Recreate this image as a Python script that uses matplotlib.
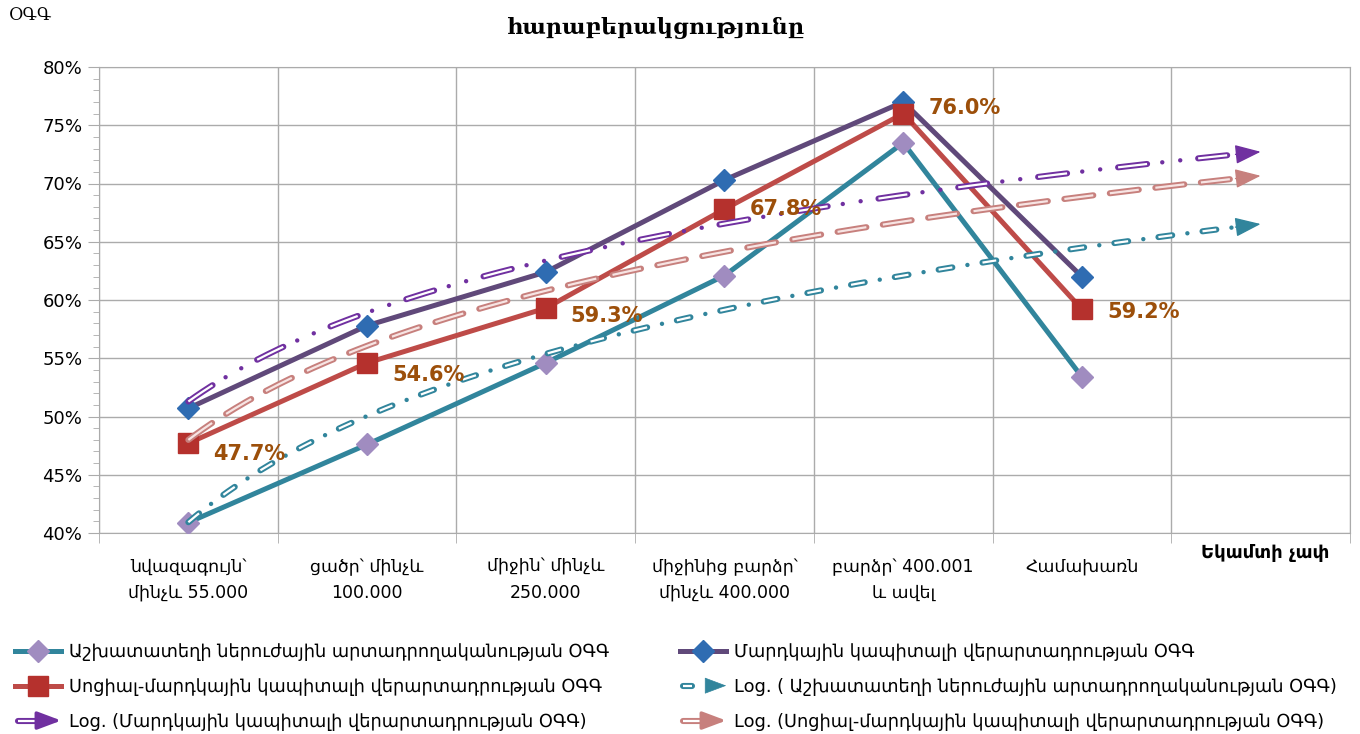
import numpy as np
import matplotlib
matplotlib.use("Agg")
import matplotlib.pyplot as plt
from matplotlib.lines import Line2D
from matplotlib.patches import FancyArrowPatch
from matplotlib.legend_handler import HandlerBase
from matplotlib.ticker import MultipleLocator, FixedLocator, FuncFormatter

plt.rcParams['font.family'] = ['DejaVu Sans']
plt.rcParams['lines.scale_dashes'] = False

# --- data (percent) ---
categories = ["նվազագույն՝\nմինչև 55.000", "ցածր՝ մինչև\n100.000", "միջին՝ մինչև\n250.000",
              "միջինից բարձր՝\nմինչև 400.000", "բարձր՝ 400.001\nև ավել", "Համախառն"]
workplace = [40.9, 47.6, 54.6, 62.1, 73.5, 53.4]
human = [50.7, 57.8, 62.4, 70.3, 77.0, 62.0]
social = [47.7, 54.6, 59.3, 67.8, 76.0, 59.2]

name_work = "Աշխատատեղի ներուժային արտադրողականության ՕԳԳ"
name_human = "Մարդկային կապիտալի վերարտադրության ՕԳԳ"
name_social = "Սոցիալ-մարդկային կապիտալի վերարտադրության ՕԳԳ"
trend_work = "Log. ( Աշխատատեղի ներուժային արտադրողականության ՕԳԳ)"
trend_human = "Log. (Մարդկային կապիտալի վերարտադրության ՕԳԳ)"
trend_social = "Log. (Սոցիալ-մարդկային կապիտալի վերարտադրության ՕԳԳ)"

GRID = "#ababab"
LABEL_COL = "#9c4f0a"
ARROW = "-|>,head_length=0.8,head_width=0.3"

# trendline dash patterns in points: (period, dash length, dot positions)
PATTERNS = {
    "dashdot": (32, 10, [21]),
    "dashdotdot": (58, 21, [32, 45]),
    "dash": (33, 21, []),
}


def draw_trend(ax, y, color, kind, inner="white"):
    """Excel-like logarithmic trendline, forecast one period forward."""
    t = np.arange(1, len(y) + 1)
    a, b = np.polyfit(np.log(t), y, 1)
    tt = np.linspace(1, len(y) + 1, 300)
    yy = a * np.log(tt) + b
    xx = tt - 1
    period, dash, dots = PATTERNS[kind]
    stop = -6
    ax.plot(xx[:stop], yy[:stop], color=color, lw=4.4, zorder=6,
            linestyle=(0, (dash, period - dash)), dash_capstyle="round")
    ax.plot(xx[:stop], yy[:stop], color=inner, lw=1.6, zorder=6,
            linestyle=(0, (dash, period - dash)), dash_capstyle="butt")
    for p in dots:
        ax.plot(xx[:stop], yy[:stop], color=color, lw=3.2, zorder=6,
                linestyle=(period - p, (0.01, period - 0.01)), dash_capstyle="round")
    ax.annotate("", xy=(xx[-1], yy[-1]), xytext=(xx[-8], yy[-8]),
                arrowprops=dict(arrowstyle=ARROW, color=color, lw=1,
                                shrinkA=0, shrinkB=0, mutation_scale=20), zorder=7)


class TrendHandler(HandlerBase):
    def __init__(self, short=False):
        super().__init__()
        self.short = short

    def create_artists(self, legend, orig_handle, xdescent, ydescent, width, height, fontsize, trans):
        color = orig_handle.get_color()
        y = height / 2 - ydescent
        x0 = -xdescent
        x1 = width - xdescent
        end = x0 + (0.25 if self.short else 0.62) * width
        outer = Line2D([x0 + 2, end], [y, y], color=color, lw=4.4, solid_capstyle="round", transform=trans)
        inn = Line2D([x0 + 2, end], [y, y], color="white", lw=1.6, solid_capstyle="butt", transform=trans)
        head = FancyArrowPatch((x1 - (0.35 if self.short else 0.5) * width, y), (x1, y),
                               arrowstyle=ARROW, mutation_scale=18, color=color,
                               lw=0.5 if self.short else 2.5,
                               shrinkA=0, shrinkB=0, transform=trans)
        return [outer, inn, head]


fig = plt.figure(figsize=(13.6, 7.34), dpi=100)
ax = fig.add_axes([99 / 1360, 1 - 533 / 734, (1350 - 99) / 1360, (533 - 67) / 734])

x = np.arange(len(categories))
l1, = ax.plot(x, workplace, color="#31859c", lw=3.6, marker="D", ms=11,
              mfc="#a08cc0", mec="#a08cc0", zorder=3, label=name_work)
l2, = ax.plot(x, human, color="#60497a", lw=3.6, marker="D", ms=11,
              mfc="#2f6cb2", mec="#2f6cb2", zorder=3, label=name_human)
l3, = ax.plot(x, social, color="#be4b48", lw=3.6, marker="s", ms=14,
              mfc="#b5312d", mec="#b5312d", zorder=3, label=name_social)

draw_trend(ax, workplace, "#31859c", "dashdot")
draw_trend(ax, human, "#7030a0", "dashdotdot")
draw_trend(ax, social, "#c7807d", "dash", inner="#f7e4e3")

label_offsets = [(18, -8), (18, -9), (18, -6), (18, 0), (18, 4), (18, -2)]
for xi, v, off in zip(x, social, label_offsets):
    ax.annotate(f"{v:.1f}%", (xi, v), xytext=off, textcoords="offset points",
                ha="left", va="center", fontsize=15, fontweight="bold",
                color=LABEL_COL, zorder=8)

ax.set_xlim(-0.5, 6.5)
ax.set_ylim(40, 80)
ax.yaxis.set_major_locator(MultipleLocator(5))
ax.yaxis.set_minor_locator(MultipleLocator(1))
ax.yaxis.set_major_formatter(FuncFormatter(lambda v, p: f"{v:.0f}%"))
ax.set_xticks(x)
ax.set_xticklabels(categories, fontsize=12.5, linespacing=1.55)
ax.xaxis.set_minor_locator(FixedLocator(np.arange(-0.5, 7.0, 1.0)))
ax.tick_params(axis="x", which="major", length=0, pad=18)
ax.tick_params(axis="x", which="minor", length=7, color=GRID)
ax.tick_params(axis="y", which="major", length=8, color=GRID, labelsize=13, pad=4)
ax.tick_params(axis="y", which="minor", length=4, color=GRID)
ax.grid(True, axis="y", which="major", color=GRID, lw=1)
ax.grid(True, axis="x", which="minor", color=GRID, lw=1)
for s in ax.spines.values():
    s.set_color(GRID)

fig.text(1265 / 1360, 1 - 553 / 734, "Եկամտի չափ", ha="center", va="center",
         fontsize=13, fontweight="bold")
fig.text(30 / 1360, 1 - 16 / 734, "ՕԳԳ", ha="center", va="center",
         fontsize=12.5, family=["DejaVu Serif", "DejaVu Sans"])
fig.text(655 / 1360, 1 - 28 / 734, "հարաբերակցությունը", ha="center", va="center",
         fontsize=16, fontweight="bold", family=["DejaVu Serif", "DejaVu Sans"])

p4 = Line2D([], [], color="#31859c", label=trend_work)
p5 = Line2D([], [], color="#7030a0", label=trend_human)
p6 = Line2D([], [], color="#c7807d", label=trend_social)
hmap = {p4: TrendHandler(short=True), p5: TrendHandler(), p6: TrendHandler()}

common = dict(loc="upper left", frameon=False, fontsize=12.8, handlelength=2.6,
              handletextpad=0.45, labelspacing=0.95, borderaxespad=0, borderpad=0,
              handler_map=hmap)
fig.legend([l1, l3, p5], [name_work, name_social, trend_human],
           bbox_to_anchor=(15 / 1360, 1 - 643 / 734), **common)
fig.legend([l2, p4, p6], [name_human, trend_work, trend_social],
           bbox_to_anchor=(680 / 1360, 1 - 643 / 734), **common)

fig.savefig("out.png", dpi=100)
